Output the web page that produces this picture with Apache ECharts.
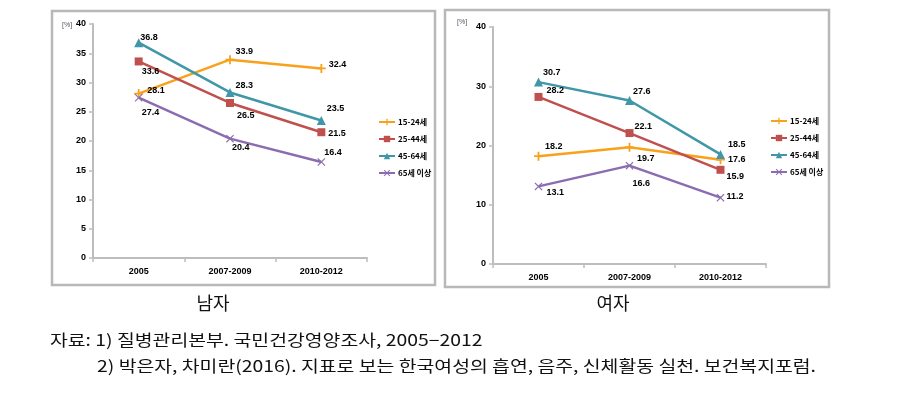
<!DOCTYPE html>
<html>
<head>
<meta charset="utf-8">
<script src="https://cdn.jsdelivr.net/npm/echarts@6/dist/echarts.min.js"></script>
<style>
html,body{margin:0;padding:0;background:#fff;}
#c{width:911px;height:418px;}
</style>
</head>
<body>
<div id="c"></div>
<script>
// ---- data ----
const categories = ['2005', '2007-2009', '2010-2012'];
const seriesNames = ['15-24세', '25-44세', '45-64세', '65세 이상'];
const male15_24 = [28.1, 33.9, 32.4];
const male25_44 = [33.6, 26.5, 21.5];
const male45_64 = [36.8, 28.3, 23.5];
const male65 = [27.4, 20.4, 16.4];
const female15_24 = [18.2, 19.7, 17.6];
const female25_44 = [28.2, 22.1, 15.9];
const female45_64 = [30.7, 27.6, 18.5];
const female65 = [13.1, 16.6, 11.2];
const maleTicks = [0, 5, 10, 15, 20, 25, 30, 35, 40];
const femaleTicks = [0, 10, 20, 30, 40];
const unitLabel = '[%]';
const panelTitles = ['남자', '여자'];
const sourceLines = ['자료: 1) 질병관리본부. 국민건강영양조사, 2005−2012',
  '2) 박은자, 차미란(2016). 지표로 보는 한국여성의 흡연, 음주, 신체활동 실천. 보건복지포럼.'];

// ---- styles / layout ----
const colors = ['#F8A21C', '#C0504D', '#3F97A8', '#8B6CB0'];
const symbols = [
  'path://M-1,-5H1V-1H5V1H1V5H-1V1H-5V-1H-1Z',
  'rect',
  'triangle',
  'path://M-5,-4L-4,-5L0,-1L4,-5L5,-4L1,0L5,4L4,5L0,1L-4,5L-5,4L-1,0Z'
];
const symbolSizes = [9, 8, 9, 8];
// label offsets (label left edge from point, label center from point)
const labelShift = {
  male: [[[8,-3],[5,-8],[7,-4]], [[3,10],[7,13],[7,1]], [[1,-5],[5,-7],[5,-12]], [[3,15],[2,9],[3,-10]]],
  female: [[[6,-10],[7,11],[7,0]], [[8,-6],[5,-7],[6,7]], [[4,-10],[3,-9],[7,-10]], [[8,6],[3,18],[6,-1]]]
};
const FONT = 'Liberation Sans, Arial, sans-serif';
const CJK = '"Noto Sans CJK KR", sans-serif';

function makeSeries(values, idx, gi, key) {
  return {
    name: seriesNames[idx],
    type: 'line',
    xAxisIndex: gi, yAxisIndex: gi,
    data: values.map((v, i) => ({
      value: v,
      label: { offset: [labelShift[key][idx][i][0] - 4, labelShift[key][idx][i][1]] }
    })),
    symbol: symbols[idx],
    symbolSize: symbolSizes[idx],
    showAllSymbol: true,
    lineStyle: { color: colors[idx], width: 2.5 },
    itemStyle: { color: colors[idx], borderWidth: 0 },
    label: {
      show: true, position: 'right', distance: 0,
      formatter: p => p.value.toFixed(1),
      fontFamily: FONT, fontSize: 9, fontWeight: 'bold', color: '#000',
      align: 'left', verticalAlign: 'middle'
    },
    emphasis: { disabled: true },
    animation: false,
    z: 3
  };
}

function xAxis(gi) {
  return {
    type: 'category', gridIndex: gi, data: categories, boundaryGap: true,
    axisLine: { lineStyle: { color: '#BDBDBD', width: 2 } },
    axisTick: { show: true, length: 4, lineStyle: { color: '#BDBDBD', width: 1.5 } },
    axisLabel: { fontFamily: FONT, fontSize: 9, fontWeight: 'bold', color: '#000', margin: 9 },
    splitLine: { show: false }
  };
}
function yAxis(gi, ticks) {
  return {
    type: 'value', gridIndex: gi, min: ticks[0], max: ticks[ticks.length - 1],
    interval: ticks[1] - ticks[0],
    axisLine: { show: true, lineStyle: { color: '#BDBDBD', width: 2 } },
    axisTick: { show: true, length: 4, lineStyle: { color: '#BDBDBD', width: 1.5 } },
    axisLabel: { fontFamily: FONT, fontSize: 9, fontWeight: 'bold', color: '#000', margin: 7 },
    splitLine: { show: false }
  };
}
function legend(left, top) {
  return {
    orient: 'vertical', left: left, top: top,
    data: seriesNames,
    itemWidth: 16, itemHeight: 8, itemGap: 9,
    textStyle: { fontFamily: CJK, fontSize: 8, fontWeight: 'bold', color: '#000', padding: [0, 0, 0, -2] },
    padding: 0,
    selectedMode: false
  };
}

const chart = echarts.init(document.getElementById('c'), null, { renderer: 'canvas' });
const option = {
  backgroundColor: '#fff',
  animation: false,
  color: colors,
  grid: [
    { left: 93, top: 24, width: 274, height: 234, outerBoundsMode: 'none', containLabel: false },
    { left: 493, top: 27, width: 273, height: 237, outerBoundsMode: 'none', containLabel: false }
  ],
  xAxis: [xAxis(0), xAxis(1)],
  yAxis: [yAxis(0, maleTicks), yAxis(1, femaleTicks)],
  legend: [legend(378, 118), legend(770, 117)],
  series: [
    makeSeries(male15_24, 0, 0, 'male'),
    makeSeries(male25_44, 1, 0, 'male'),
    makeSeries(male45_64, 2, 0, 'male'),
    makeSeries(male65, 3, 0, 'male'),
    makeSeries(female15_24, 0, 1, 'female'),
    makeSeries(female25_44, 1, 1, 'female'),
    makeSeries(female45_64, 2, 1, 'female'),
    makeSeries(female65, 3, 1, 'female')
  ],
  graphic: [
    { type: 'rect', shape: { x: 52, y: 11, width: 383, height: 274 }, style: { fill: 'none', stroke: '#B8B8B8', lineWidth: 2.5 }, z: -1 },
    { type: 'rect', shape: { x: 445, y: 10, width: 384, height: 277 }, style: { fill: 'none', stroke: '#B8B8B8', lineWidth: 2.5 }, z: -1 },
    { type: 'text', left: 62, top: 22, style: { text: unitLabel, fontFamily: FONT, fontSize: 7, fill: '#556' } },
    { type: 'text', left: 457, top: 19, style: { text: unitLabel, fontFamily: FONT, fontSize: 7, fill: '#556' } },
    { type: 'text', x: 213, y: 303, style: { text: panelTitles[0], fontFamily: CJK, fontSize: 18, fill: '#111', align: 'center', verticalAlign: 'middle' } },
    { type: 'text', x: 613, y: 303, style: { text: panelTitles[1], fontFamily: CJK, fontSize: 18, fill: '#111', align: 'center', verticalAlign: 'middle' } },
    { type: 'text', x: 50, y: 340, scaleX: 1.21, style: { text: sourceLines[0], fontFamily: CJK, fontSize: 16, fill: '#111', align: 'left', verticalAlign: 'middle' } },
    { type: 'text', x: 97, y: 366, scaleX: 1.21, style: { text: sourceLines[1], fontFamily: CJK, fontSize: 16, fill: '#111', align: 'left', verticalAlign: 'middle' } }
  ]
};
chart.setOption(option);
</script>
</body>
</html>
